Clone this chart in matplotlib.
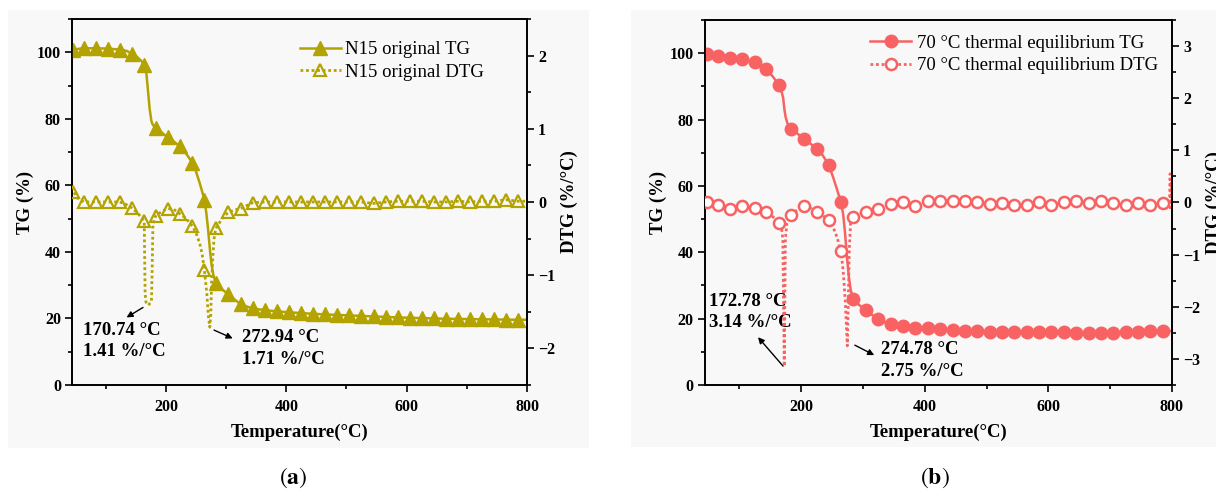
import matplotlib
matplotlib.use('Agg')
import matplotlib.pyplot as plt
from matplotlib.lines import Line2D
from matplotlib.patches import Rectangle
from matplotlib.ticker import MultipleLocator

plt.rcParams['font.family'] = ['Liberation Serif', 'DejaVu Serif']
plt.rcParams['mathtext.fontset'] = 'stix'
plt.rcParams['axes.unicode_minus'] = True

# ---------------- Panel (a): N15 original ----------------
a_tg_T = [44, 64, 84, 104, 123, 135, 143, 152, 158, 164, 167, 170, 173, 176, 178, 180, 183,
          193, 203, 213, 223, 233, 244, 250, 256, 260, 264, 267, 270, 273, 276, 279, 283,
          293, 304, 314, 324, 334, 344, 364, 385, 425, 465, 505, 545, 585, 625, 665, 705,
          745, 785, 800]
a_tg = [100.8, 101.2, 101.2, 101.1, 100.8, 100.4, 99.6, 98.6, 97.6, 96.3, 94.8, 89.0, 83.0,
        79.3, 78.3, 77.8, 77.3, 75.9, 74.4, 73.2, 71.7, 69.7, 66.8, 64.2, 60.8, 58.3, 55.6,
        52.0, 47.0, 41.0, 36.0, 33.0, 30.6, 28.8, 27.2, 25.7, 24.3, 23.6, 23.0, 22.5, 22.1,
        21.6, 21.2, 20.9, 20.6, 20.3, 20.1, 19.9, 19.8, 19.7, 19.6, 19.6]
a_mk_T = [45, 64, 84, 104, 123, 143, 164, 183, 203, 223, 244, 264, 283, 304, 324, 344, 364,
          385, 405, 425, 445, 465, 485, 505, 525, 545, 565, 585, 605, 625, 645, 665, 685, 705,
          725, 745, 765, 785]
a_mk_tg = [100.8, 101.2, 101.2, 101.1, 100.8, 99.6, 96.3, 77.3, 74.4, 71.7, 66.8, 55.6, 30.6,
           27.2, 24.3, 23.0, 22.5, 22.1, 21.8, 21.6, 21.4, 21.2, 21.0, 20.9, 20.7, 20.6, 20.4,
           20.3, 20.2, 20.1, 20.0, 19.9, 19.9, 19.8, 19.7, 19.7, 19.6, 19.6]

a_dtg_T = [44, 47, 52, 64, 84, 104, 123, 133, 143, 153, 160, 164, 165.5, 167, 170.74, 174, 176,
           177, 178.5, 183, 193, 203, 213, 223, 233, 244, 250, 256, 260, 264, 268, 270.5,
           272.94, 274.5, 276, 278, 280, 283, 294, 304, 314, 324, 334, 344, 364, 385, 405,
           425, 445, 465, 485, 505, 525, 545, 565, 585, 605, 625, 645, 665, 685, 705, 725,
           745, 765, 785, 800]
a_dtg = [0.20, 0.14, 0.06, 0.0, 0.0, 0.0, 0.0, -0.03, -0.08, -0.15, -0.22, -0.26, -1.25, -1.37,
         -1.41, -1.38, -1.36, -1.00, -0.30, -0.19, -0.13, -0.09, -0.10, -0.16, -0.22, -0.33,
         -0.42, -0.56, -0.70, -0.93, -1.25, -1.55, -1.71, -1.55, -1.10, -0.75, -0.50, -0.36,
         -0.22, -0.14, -0.11, -0.09, -0.05, -0.01, 0.0, 0.0, 0.0, 0.0, 0.0, 0.0, 0.0, 0.0,
         0.0, -0.02, 0.0, 0.01, 0.01, 0.01, 0.0, 0.0, 0.01, 0.0, 0.01, 0.01, 0.03, 0.01, 0.01]
a_mk_dtg = [0.14, 0.0, 0.0, 0.0, 0.0, -0.08, -0.26, -0.19, -0.09, -0.16, -0.33, -0.93, -0.36,
            -0.14, -0.09, -0.01, 0.0, 0.0, 0.0, 0.0, 0.0, 0.0, 0.0, 0.0, 0.0, -0.02, 0.0, 0.01,
            0.01, 0.01, 0.0, 0.0, 0.01, 0.0, 0.01, 0.01, 0.03, 0.01]

# ---------------- Panel (b): 70 °C thermal equilibrium ----------------
b_tg_T = [44, 47, 65, 85, 105, 125, 135, 144, 154, 160, 164, 167, 169, 171, 173, 175, 178, 181,
          184, 194, 204, 214, 225, 235, 244.5, 252, 258, 264.5, 268, 271, 274, 277, 280, 284.5,
          294, 304.6, 314, 324.6, 335, 345, 365, 385, 405, 425, 445, 465, 485, 505, 525, 545,
          565, 585, 605, 625, 645, 665, 685, 705, 725, 745, 765, 785, 800]
b_tg = [99.8, 99.6, 99.1, 98.6, 98.1, 97.3, 96.5, 95.1, 93.0, 91.5, 90.3, 89.6, 88.0, 86.5, 83.0,
        80.7, 78.8, 77.9, 77.2, 75.8, 74.2, 72.9, 71.2, 69.2, 66.4, 62.5, 59.0, 55.0, 51.5, 46.0,
        39.0, 33.0, 28.8, 25.9, 24.1, 22.6, 21.2, 19.9, 18.9, 18.3, 17.8, 17.3, 17.1, 16.8, 16.6,
        16.4, 16.3, 16.1, 16.1, 16.0, 16.0, 15.9, 15.9, 15.9, 15.8, 15.8, 15.8, 15.8, 16.0, 16.1,
        16.2, 16.2, 16.3]
b_mk_T = [47, 65, 85, 105, 125, 144, 164, 184, 204, 225, 244.5, 264.5, 284.5, 304.6, 324.6, 345,
          365, 385, 405, 425, 445, 465, 485, 505, 525, 545, 565, 585, 605, 625, 645, 665, 685,
          705, 725, 745, 765, 785]
b_mk_tg = [99.6, 99.1, 98.6, 98.1, 97.3, 95.1, 90.3, 77.2, 74.2, 71.2, 66.4, 55.0, 25.9, 22.6,
           19.9, 18.3, 17.8, 17.3, 17.1, 16.8, 16.6, 16.4, 16.3, 16.1, 16.1, 16.0, 16.0, 15.9,
           15.9, 15.9, 15.8, 15.8, 15.8, 15.8, 16.0, 16.1, 16.2, 16.2]

b_dtg_T = [44, 47, 56, 65, 75, 85, 95, 105, 115, 125, 135, 144, 154, 160, 164, 168, 170.4,
           172.78, 174.6, 177, 180, 184, 194, 204, 214, 225, 235, 244.5, 252, 258, 264.5, 268,
           271.5, 274.78, 276.5, 278, 280, 284.5, 294, 304.6, 314, 324.6, 335, 345, 365, 385,
           405, 425, 445, 465, 485, 505, 525, 545, 565, 585, 605, 625, 645, 665, 685, 705, 725,
           745, 765, 785, 793, 796, 797, 798, 799, 800]
b_dtg = [0.05, 0.01, -0.03, -0.05, -0.09, -0.13, -0.09, -0.06, -0.08, -0.11, -0.14, -0.19, -0.27,
         -0.34, -0.39, -0.45, -0.70, -3.14, -0.70, -0.40, -0.30, -0.24, -0.14, -0.06, -0.10,
         -0.19, -0.25, -0.34, -0.48, -0.66, -0.94, -1.30, -1.90, -2.75, -1.80, -0.90, -0.40,
         -0.27, -0.22, -0.18, -0.15, -0.13, -0.07, -0.02, 0.0, -0.07, 0.03, 0.03, 0.03, 0.03,
         0.01, -0.03, -0.01, -0.04, -0.04, 0.01, -0.04, 0.0, 0.03, -0.01, 0.03, -0.01, -0.05,
         -0.01, -0.05, -0.01, 0.0, -0.02, 0.55, -0.15, 0.40, 0.0]
b_mk_dtg = [0.01, -0.05, -0.13, -0.06, -0.11, -0.19, -0.39, -0.24, -0.06, -0.19, -0.34, -0.94,
            -0.27, -0.18, -0.13, -0.02, 0.0, -0.07, 0.03, 0.03, 0.03, 0.03, 0.01, -0.03, -0.01,
            -0.04, -0.04, 0.01, -0.04, 0.0, 0.03, -0.01, 0.03, -0.01, -0.05, -0.01, -0.05, -0.01]

OLIVE = '#B3A300'
RED = '#F96262'
BG = '#f8f8f8'
DOT = (0, (1, 1))

fig = plt.figure(figsize=(12.16, 4.93), dpi=100)
for (x0, y0, w, h) in [(0.0066, 0.0913, 0.478, 0.888), (0.519, 0.0933, 0.481, 0.886)]:
    fig.patches.append(Rectangle((x0, y0), w, h, transform=fig.transFigure,
                                 facecolor=BG, edgecolor='none', zorder=-10))


def style(ax, ax2, ylim2, major2):
    ax.set_xlim(44, 800)
    ax.set_ylim(0, 110)
    ax2.set_ylim(*ylim2)
    ax.xaxis.set_major_locator(MultipleLocator(200))
    ax.xaxis.set_minor_locator(MultipleLocator(100))
    ax.yaxis.set_major_locator(MultipleLocator(20))
    ax.yaxis.set_minor_locator(MultipleLocator(10))
    ax2.yaxis.set_major_locator(MultipleLocator(major2))
    ax2.yaxis.set_minor_locator(MultipleLocator(major2 / 2))
    for a in (ax, ax2):
        a.set_facecolor('none')
        for s in a.spines.values():
            s.set_linewidth(1.2)
        a.tick_params(which='both', direction='out', width=1.2)
        a.tick_params(which='major', length=5, labelsize=11.5, pad=3)
        a.tick_params(which='minor', length=3)
        for lab in a.get_xticklabels() + a.get_yticklabels():
            lab.set_fontweight('bold')
    ax.tick_params(axis='x', which='major', pad=5)
    ax.tick_params(which='both', top=False, right=False)
    ax.set_xlabel('Temperature(°C)', fontsize=13.5, fontweight='bold', labelpad=6)
    ax.set_ylabel('TG (%)', fontsize=13.5, fontweight='bold', labelpad=2)
    ax2.set_ylabel('DTG (%/°C)', fontsize=13.5, fontweight='bold', labelpad=4)


# ---- Panel a
ax = fig.add_axes([0.0592, 0.2191, 0.3742, 0.7424])
ax2 = ax.twinx()
ax.plot(a_tg_T, a_tg, color=OLIVE, lw=1.8, zorder=2)
ax.plot(a_mk_T, a_mk_tg, ls='none', marker='^', ms=9.5, color=OLIVE, zorder=3)
ax2.plot(a_dtg_T, a_dtg, color=OLIVE, lw=2, ls=DOT, zorder=2)
ax2.plot(a_mk_T, a_mk_dtg, ls='none', marker='^', ms=9, mfc='none', mec=OLIVE, mew=1.6, zorder=3)
style(ax, ax2, (-2.5, 2.5), 1)
h1 = Line2D([], [], color=OLIVE, lw=1.8, marker='^', ms=9.5)
h2 = Line2D([], [], color=OLIVE, lw=2, ls=DOT, marker='^', ms=9, mfc='none', mew=1.6)
ax2.legend([h1, h2], ['N15 original TG', 'N15 original DTG'], loc='upper left',
           bbox_to_anchor=(0.50, 0.94), frameon=False, fontsize=13.5, numpoints=1,
           handlelength=2.2, handletextpad=0.25, labelspacing=0.3, borderpad=0, borderaxespad=0)
ax.text(62, 13.3, '170.74 °C\n1.41 %/°C', fontsize=13.5, fontweight='bold', ha='left',
        va='center', linespacing=1.33)
ax.annotate('', xy=(134.6, 20.3), xytext=(162, 23.3),
            arrowprops=dict(arrowstyle='-|>', color='black', lw=1.0, mutation_scale=9,
                            shrinkA=0, shrinkB=0))
ax.text(327, 11, '272.94 °C\n1.71 %/°C', fontsize=13.5, fontweight='bold', ha='left',
        va='center', linespacing=1.33)
ax.annotate('', xy=(311, 14), xytext=(280, 16.5),
            arrowprops=dict(arrowstyle='-|>', color='black', lw=1.0, mutation_scale=9,
                            shrinkA=0, shrinkB=0))

# ---- Panel b
bx = fig.add_axes([0.5795, 0.2191, 0.3843, 0.7404])
bx2 = bx.twinx()
bx.plot(b_tg_T, b_tg, color=RED, lw=1.8, zorder=2)
bx.plot(b_mk_T, b_mk_tg, ls='none', marker='o', ms=9, color=RED, zorder=3)
bx2.plot(b_dtg_T, b_dtg, color=RED, lw=2, ls=DOT, zorder=2)
bx2.plot(b_mk_T, b_mk_dtg, ls='none', marker='o', ms=8, mfc='white', mec=RED, mew=1.8, zorder=3)
style(bx, bx2, (-3.5, 3.5), 1)
g1 = Line2D([], [], color=RED, lw=1.8, marker='o', ms=9)
g2 = Line2D([], [], color=RED, lw=2, ls=DOT, marker='o', ms=8, mfc='white', mew=1.8)
bx2.legend([g1, g2], ['70 °C thermal equilibrium TG', '70 °C thermal equilibrium DTG'],
           loc='upper left', bbox_to_anchor=(0.354, 0.96), frameon=False, fontsize=13.5,
           numpoints=1, handlelength=2.2, handletextpad=0.3, labelspacing=0.3, borderpad=0,
           borderaxespad=0)
bx.text(51, 22.1, '172.78 °C\n3.14 %/°C', fontsize=13.5, fontweight='bold', ha='left',
        va='center', linespacing=1.33)
bx.annotate('', xy=(130.3, 14.4), xytext=(170.8, 5.7),
            arrowprops=dict(arrowstyle='-|>', color='black', lw=1.0, mutation_scale=9,
                            shrinkA=0, shrinkB=0))
bx.text(329, 7.4, '274.78 °C\n2.75 %/°C', fontsize=13.5, fontweight='bold', ha='left',
        va='center', linespacing=1.33)
bx.annotate('', xy=(318.3, 9.0), xytext=(287, 12),
            arrowprops=dict(arrowstyle='-|>', color='black', lw=1.0, mutation_scale=9,
                            shrinkA=0, shrinkB=0))

fig.text(293 / 1216, 1 - 478 / 493, r'$(\mathbf{a})$', ha='center', va='center', fontsize=17)
fig.text(935 / 1216, 1 - 478 / 493, r'$(\mathbf{b})$', ha='center', va='center', fontsize=17)

fig.savefig('out.png', dpi=100)
